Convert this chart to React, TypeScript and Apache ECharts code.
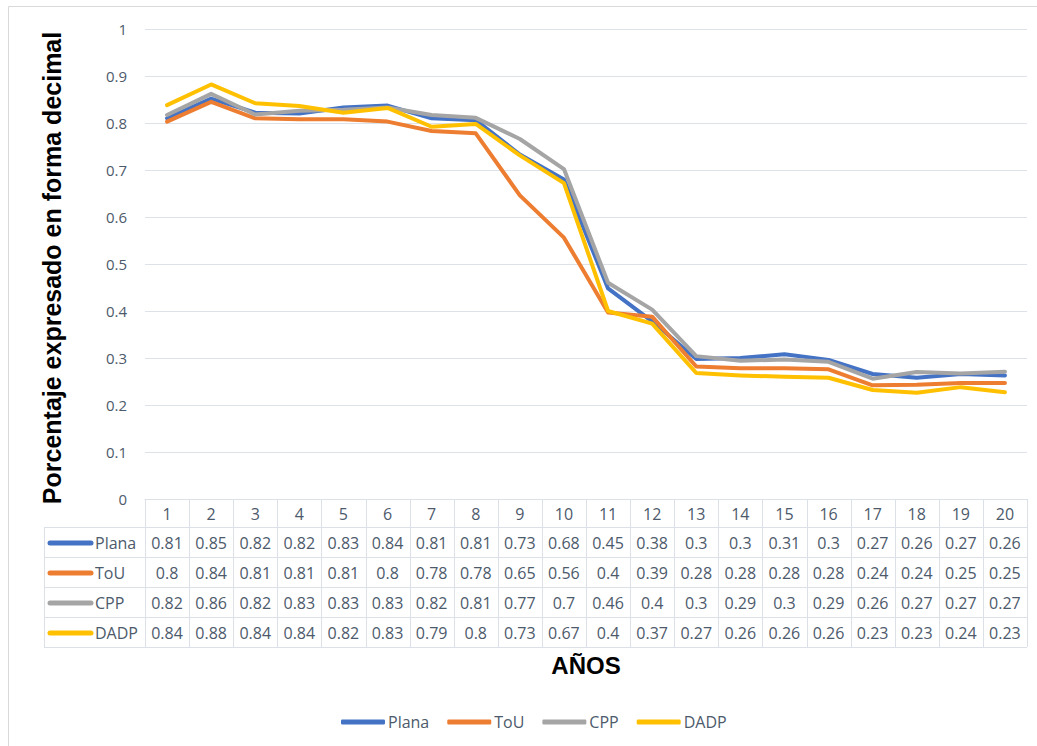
import React, { useEffect, useRef } from "react";
import * as echarts from "echarts";

const years = ["1","2","3","4","5","6","7","8","9","10","11","12","13","14","15","16","17","18","19","20"];
const seriesNames = ["Plana", "ToU", "CPP", "DADP"];
const colors = ["#4472C4", "#ED7D31", "#A5A5A5", "#FFC000"];
const plana = [0.81, 0.852, 0.822, 0.82, 0.833, 0.837, 0.81, 0.806, 0.733, 0.68, 0.448, 0.378, 0.298, 0.3, 0.308, 0.296, 0.266, 0.258, 0.266, 0.263];
const tou = [0.803, 0.845, 0.81, 0.808, 0.808, 0.803, 0.783, 0.778, 0.646, 0.556, 0.397, 0.388, 0.282, 0.278, 0.278, 0.276, 0.242, 0.243, 0.247, 0.247];
const cpp = [0.817, 0.862, 0.818, 0.826, 0.828, 0.833, 0.817, 0.811, 0.766, 0.702, 0.46, 0.403, 0.304, 0.294, 0.297, 0.292, 0.256, 0.27, 0.267, 0.271];
const dadp = [0.838, 0.882, 0.842, 0.836, 0.822, 0.832, 0.792, 0.798, 0.731, 0.672, 0.4, 0.373, 0.268, 0.263, 0.26, 0.258, 0.232, 0.226, 0.238, 0.227];
const allData = [plana, tou, cpp, dadp];

const FONT = "'Open Sans', 'Noto Sans', sans-serif";
const TXT = "#4d5a6b";
const BORDER = "#dce1e8";

export default function App() {
  const ref = useRef<HTMLDivElement>(null);
  useEffect(() => {
    if (!ref.current) return;
    const chart = echarts.init(ref.current, null, { renderer: "svg" });
    const gl = 145, gr = 1027, gt = 29, gb = 499;
    const cw = (gr - gl) / years.length;
    const rowTops = [527, 557, 587, 617, 647];
    const tableLeft = 44;
    const fmt = (v: number) => String(Number(v.toFixed(2)));

    const graphic: any[] = [];
    graphic.push({ type: "rect", shape: { x: 8.5, y: 6.5, width: 1100, height: 800 }, style: { fill: "none", stroke: "#d9d9d9", lineWidth: 1 }, silent: true });
    rowTops.forEach((y) => {
      graphic.push({ type: "line", shape: { x1: tableLeft, y1: y + 0.5, x2: gr, y2: y + 0.5 }, style: { stroke: BORDER, lineWidth: 1 }, silent: true });
    });
    graphic.push({ type: "line", shape: { x1: tableLeft + 0.5, y1: rowTops[0], x2: tableLeft + 0.5, y2: rowTops[4] }, style: { stroke: BORDER, lineWidth: 1 }, silent: true });
    for (let k = 0; k <= years.length; k++) {
      const x = Math.round(gl + k * cw) + 0.5;
      graphic.push({ type: "line", shape: { x1: x, y1: gb, x2: x, y2: rowTops[4] }, style: { stroke: BORDER, lineWidth: 1 }, silent: true });
    }
    years.forEach((yr, i) => {
      graphic.push({ type: "text", x: gl + (i + 0.5) * cw, y: (gb + rowTops[0]) / 2 + 1, style: { text: yr, fill: TXT, font: `16px ${FONT}`, align: "center", verticalAlign: "middle" }, silent: true });
    });
    seriesNames.forEach((name, r) => {
      const cy = (rowTops[r] + rowTops[r + 1]) / 2 + 1;
      graphic.push({ type: "line", shape: { x1: 50, y1: cy, x2: 91, y2: cy }, style: { stroke: colors[r], lineWidth: 5, lineCap: "round" }, silent: true });
      graphic.push({ type: "text", x: 95, y: cy, style: { text: name, fill: TXT, font: `16px ${FONT}`, align: "left", verticalAlign: "middle" }, silent: true });
      allData[r].forEach((v, i) => {
        graphic.push({ type: "text", x: gl + (i + 0.5) * cw, y: cy, style: { text: fmt(v), fill: TXT, font: `16px ${FONT}`, align: "center", verticalAlign: "middle" }, silent: true });
      });
    });
    graphic.push({ type: "text", x: 52, y: 268, rotation: Math.PI / 2, style: { text: "Porcentaje expresado en forma decimal", fill: "#000", font: `bold 25px 'Liberation Sans', Arial, sans-serif`, align: "center", verticalAlign: "middle" }, silent: true });
    graphic.push({ type: "text", x: 586, y: 665, style: { text: "AÑOS", fill: "#000", font: `bold 24px 'Liberation Sans', Arial, sans-serif`, align: "center", verticalAlign: "middle" }, silent: true });

    chart.setOption({
      animation: false,
      backgroundColor: "#ffffff",
      textStyle: { fontFamily: FONT },
      grid: { left: gl, right: 1037 - gr, top: gt, bottom: 746 - gb, outerBoundsMode: "none" },
      legend: {
        left: 336, top: 709,
        icon: "roundRect",
        itemWidth: 44, itemHeight: 5, itemGap: 18,
        textStyle: { color: TXT, fontSize: 16, fontFamily: FONT, padding: [0, 0, 0, -2] },
        data: seriesNames,
      },
      xAxis: {
        type: "category",
        data: years,
        boundaryGap: true,
        axisLine: { show: true, lineStyle: { color: BORDER, width: 1 } },
        axisTick: { show: false },
        axisLabel: { show: false },
        splitLine: { show: false },
      },
      yAxis: {
        type: "value",
        min: 0, max: 1, interval: 0.1,
        axisLine: { show: false },
        axisTick: { show: false },
        axisLabel: { color: TXT, fontSize: 15, fontFamily: FONT, margin: 18, formatter: (v: number) => String(Number(v.toFixed(1))) },
        splitLine: { lineStyle: { color: "#dde2e9", width: 1 } },
      },
      series: seriesNames.map((name, i) => ({
        name,
        type: "line",
        data: allData[i],
        symbol: "none",
        lineStyle: { color: colors[i], width: 4, cap: "round", join: "round" },
        itemStyle: { color: colors[i] },
        z: 2 + i,
      })),
      graphic,
    });
    return () => chart.dispose();
  }, []);
  return <div ref={ref} style={{ position: "fixed", left: 0, top: 0, width: 1037, height: 746, background: "#fff" }} />;
}
